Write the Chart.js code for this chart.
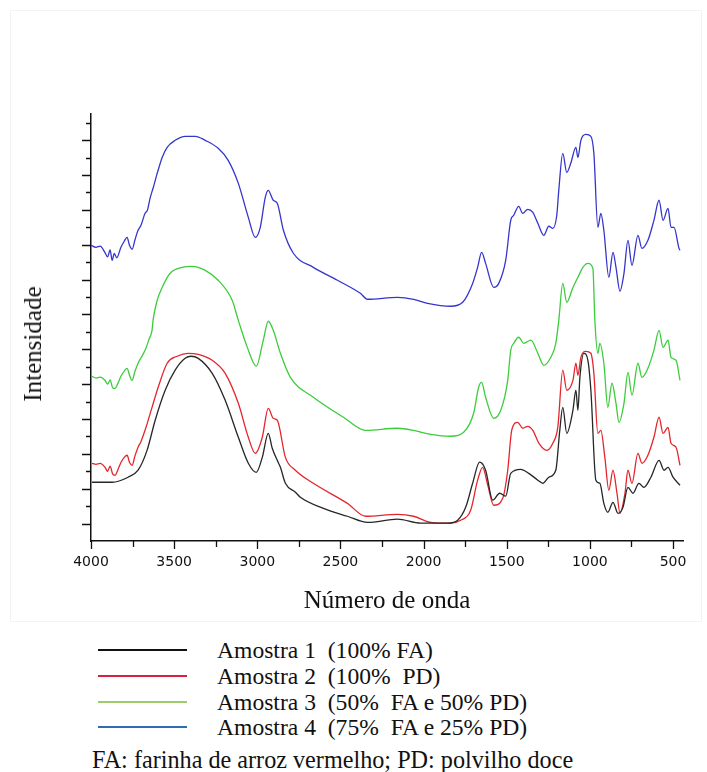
<!DOCTYPE html>
<html lang="pt">
<head>
<meta charset="utf-8">
<title>Espectros FTIR</title>
<script src="https://cdn.jsdelivr.net/npm/chart.js@4.4.1/dist/chart.umd.min.js"></script>
<style>
  body { margin: 0; background: #fff; }
  #wrap {
    position: relative; width: 707px; height: 772px; overflow: hidden;
    font-family: "Liberation Serif", "Times New Roman", serif; color: #111;
  }
  #frame {
    position: absolute; left: 10px; top: 10px; width: 690px; height: 610px;
    border: 1px solid #f3f3f3;
  }
  #spectra { position: absolute; left: 0; top: 0; }
  #ytitle {
    position: absolute; left: 33px; top: 344px; font-size: 25px; white-space: nowrap;
    transform: translate(-50%, -50%) rotate(-90deg);
  }
  .leg-line { position: absolute; left: 98px; width: 89px; height: 2px; }
  .leg-text {
    position: absolute; left: 217px; font-size: 23.6px; line-height: 26px;
    white-space: pre;
  }
  #note {
    position: absolute; left: 92px; top: 746px; font-size: 24.2px; line-height: 28px;
    white-space: pre;
  }
</style>
</head>
<body>
<div id="wrap">
  <div id="frame"></div>
  <canvas id="spectra" width="707" height="625"></canvas>
  <div id="ytitle">Intensidade</div>
  <div id="legend"></div>
  <div id="note">FA: farinha de arroz vermelho; PD: polvilho doce</div>
</div>

<script>
/* ---------- data ---------- */

const xTickLabels = [4000, 3500, 3000, 2500, 2000, 1500, 1000, 500];

const sampleNames = [
  'Amostra 1  (100% FA)',
  'Amostra 2  (100%  PD)',
  'Amostra 3  (50%  FA e 50% PD)',
  'Amostra 4  (75%  FA e 25% PD)'
];

// Amostra 1 (100% FA)
const amostra1Wn = [3994, 3873, 3777, 3717, 3663, 3614, 3554, 3494, 3434, 3398, 3355, 3271, 3193, 3114,
  3054, 3006, 2970, 2934, 2910, 2880, 2861, 2831, 2771, 2741, 2602, 2458, 2337, 2157, 2018, 1855, 1795,
  1747, 1705, 1663, 1627, 1584, 1542, 1506, 1476, 1416, 1367, 1313, 1283, 1247, 1205, 1181, 1163, 1139,
  1102, 1084, 1072, 1060, 1036, 1012, 994, 964, 940, 916, 892, 861, 831, 801, 771, 741, 705, 675, 633,
  584, 554, 530, 500, 458];
const amostra1Int = [3.37, 3.37, 3.66, 4.06, 5.20, 6.93, 8.65, 9.80, 10.48, 10.60, 10.48, 9.62, 8.07, 5.95,
  4.46, 3.94, 4.80, 6.18, 5.32, 4.63, 4.23, 3.31, 2.80, 2.51, 1.87, 1.42, 1.07, 1.25, 1.02, 1.02, 1.19,
  1.93, 3.31, 4.52, 4.06, 2.34, 2.74, 2.57, 3.88, 4.11, 3.88, 3.49, 3.31, 3.66, 4.06, 6.35, 7.67, 6.18,
  7.50, 8.65, 7.50, 9.39, 10.77, 10.37, 8.65, 3.49, 3.31, 2.16, 1.65, 2.22, 1.59, 1.93, 3.08, 2.74, 3.31,
  3.08, 3.66, 4.63, 4.06, 4.23, 3.66, 3.20];

// Amostra 2 (100% PD)
const amostra2Wn = [3994, 3970, 3945, 3916, 3900, 3885, 3870, 3855, 3840, 3820, 3800, 3783, 3768, 3753,
  3735, 3717, 3700, 3675, 3633, 3596, 3542, 3482, 3416, 3355, 3271, 3193, 3114, 3054, 3012, 2970, 2934,
  2904, 2880, 2831, 2771, 2663, 2458, 2349, 2157, 2060, 1958, 1837, 1777, 1717, 1675, 1645, 1614, 1578,
  1524, 1494, 1470, 1434, 1404, 1374, 1343, 1307, 1259, 1223, 1193, 1163, 1139, 1102, 1084, 1072, 1054,
  1024, 994, 976, 952, 934, 910, 886, 861, 837, 819, 789, 771, 747, 711, 687, 651, 615, 584, 560, 530,
  512, 482, 458];
const amostra2Int = [4.46, 4.40, 4.45, 4.23, 4.00, 4.30, 3.85, 3.77, 4.05, 4.50, 4.80, 4.92, 4.50, 4.34,
  4.90, 5.38, 5.70, 6.35, 7.67, 8.82, 10.20, 10.60, 10.77, 10.71, 10.37, 9.62, 7.90, 5.95, 5.03, 5.95, 7.61,
  7.04, 6.93, 4.80, 4.06, 3.31, 2.16, 1.42, 1.53, 1.42, 1.07, 1.02, 1.19, 1.76, 3.49, 4.23, 3.20, 2.05,
  2.45, 4.06, 6.35, 6.81, 6.47, 6.58, 6.35, 5.61, 5.20, 5.61, 6.52, 9.80, 8.65, 9.22, 10.20, 9.51, 10.54,
  10.88, 10.77, 9.62, 6.18, 6.35, 4.80, 2.91, 4.06, 2.74, 1.59, 2.74, 4.06, 3.31, 5.03, 4.46, 4.92, 5.95,
  7.10, 6.18, 6.52, 5.61, 5.38, 4.34];

// Amostra 3 (50% FA e 50% PD)
const amostra3Wn = [3994, 3970, 3945, 3916, 3900, 3885, 3870, 3855, 3840, 3820, 3800, 3783, 3768, 3753,
  3735, 3717, 3700, 3675, 3650, 3633, 3627, 3602, 3572, 3524, 3452, 3392, 3313, 3235, 3151, 3114, 3060,
  3006, 2964, 2934, 2904, 2861, 2801, 2663, 2482, 2349, 2157, 2060, 1958, 1837, 1759, 1699, 1669, 1651,
  1627, 1578, 1536, 1494, 1476, 1458, 1428, 1398, 1355, 1313, 1277, 1235, 1205, 1187, 1163, 1139, 1102,
  1072, 1042, 1012, 982, 970, 952, 940, 916, 892, 867, 843, 825, 795, 771, 747, 711, 687, 651, 615, 584,
  560, 530, 512, 482, 458];
const amostra3Int = [9.45, 9.35, 9.40, 9.22, 9.00, 9.25, 8.80, 8.76, 9.00, 9.45, 9.75, 9.91, 9.50, 9.22,
  9.75, 10.20, 10.50, 10.94, 11.60, 12.09, 12.66, 13.81, 14.55, 15.36, 15.70, 15.76, 15.53, 14.96, 13.81,
  12.66, 11.11, 10.03, 11.52, 12.61, 12.09, 10.77, 9.39, 8.25, 7.10, 6.35, 6.47, 6.35, 6.12, 6.01, 6.24,
  7.33, 8.82, 9.10, 8.25, 7.04, 7.50, 9.22, 10.94, 11.34, 11.69, 11.34, 11.52, 10.77, 10.08, 10.54, 11.34,
  12.66, 14.78, 13.70, 14.55, 15.13, 15.70, 15.93, 15.65, 12.66, 10.77, 11.34, 10.20, 7.67, 9.05, 7.90,
  6.81, 7.90, 9.68, 8.36, 10.20, 9.39, 9.91, 10.94, 12.09, 11.11, 11.52, 10.54, 10.37, 9.22];

// Amostra 4 (75% FA e 25% PD)
const amostra4Wn = [4000, 3970, 3945, 3916, 3900, 3885, 3873, 3860, 3845, 3820, 3800, 3783, 3768, 3753,
  3735, 3717, 3700, 3675, 3660, 3645, 3625, 3602, 3572, 3542, 3494, 3434, 3373, 3313, 3235, 3175, 3114,
  3054, 3012, 2982, 2952, 2934, 2904, 2880, 2843, 2783, 2663, 2518, 2380, 2337, 2157, 2060, 1976, 1837,
  1765, 1705, 1675, 1651, 1627, 1578, 1548, 1506, 1476, 1458, 1428, 1404, 1374, 1343, 1313, 1277, 1247,
  1223, 1199, 1187, 1163, 1139, 1115, 1084, 1072, 1054, 1024, 994, 976, 952, 934, 916, 886, 861, 843,
  819, 795, 771, 747, 711, 687, 651, 615, 584, 560, 530, 512, 494, 464, 458];
const amostra4Int = [16.97, 16.85, 16.92, 16.55, 16.30, 16.70, 16.10, 16.50, 16.25, 16.85, 17.20, 17.42,
  16.95, 16.74, 17.30, 17.83, 18.10, 18.80, 19.00, 19.66, 20.30, 21.09, 22.01, 22.59, 22.99, 23.22, 23.22,
  22.99, 22.53, 21.84, 20.52, 18.57, 17.42, 18.00, 19.72, 20.12, 19.55, 19.38, 17.83, 16.51, 15.70, 14.96,
  14.21, 13.87, 13.98, 13.87, 13.64, 13.47, 13.70, 14.78, 15.70, 16.56, 15.93, 14.55, 14.78, 16.11, 18.40,
  18.69, 19.20, 18.80, 19.03, 18.86, 18.23, 17.54, 18.06, 17.94, 18.69, 20.12, 22.24, 21.15, 21.67, 22.59,
  22.01, 22.99, 23.33, 23.22, 22.24, 18.00, 18.80, 17.83, 15.13, 16.56, 15.70, 14.33, 15.36, 17.25, 15.82,
  17.54, 16.79, 17.25, 18.40, 19.55, 18.40, 19.08, 18.00, 18.00, 16.79, 16.68];

/* ---------- styles ---------- */

const lineColors = ['#262626', '#e4262c', '#3ccc3c', '#3535cc'];
const legendColors = ['#111111', '#d81f3f', '#9dcc6c', '#2f6db3'];

/* ---------- chart ---------- */

function toPoints(wn, vals) {
  return wn.map((w, i) => ({ x: w, y: vals[i] }));
}

// short/long tick marks on both axes (Chart.js has no minor ticks)
const axisTicks = {
  id: 'axisTicks',
  afterDraw(chart) {
    const { ctx, chartArea, scales } = chart;
    ctx.save();
    ctx.strokeStyle = '#111';
    ctx.lineWidth = 1.3;
    ctx.beginPath();
    for (let v = 1; v <= 24; v++) {
      const y = Math.round(scales.y.getPixelForValue(v)) + 0.5;
      const len = v % 2 ? 9 : 5;
      ctx.moveTo(chartArea.left - len, y);
      ctx.lineTo(chartArea.left, y);
    }
    for (let w = 4000; w >= 500; w -= 250) {
      const x = Math.round(scales.x.getPixelForValue(w)) + 0.5;
      const len = w % 500 === 0 ? 8 : 6;
      ctx.moveTo(x, chartArea.bottom);
      ctx.lineTo(x, chartArea.bottom + len);
    }
    ctx.stroke();
    ctx.restore();
  }
};

const series = [
  toPoints(amostra1Wn, amostra1Int),
  toPoints(amostra2Wn, amostra2Int),
  toPoints(amostra3Wn, amostra3Int),
  toPoints(amostra4Wn, amostra4Int)
];

new Chart(document.getElementById('spectra'), {
  type: 'line',
  data: {
    datasets: series.map((pts, i) => ({
      label: sampleNames[i],
      data: pts,
      borderColor: lineColors[i],
      borderWidth: 1.3,
      pointRadius: 0,
      cubicInterpolationMode: 'monotone',
      fill: false
    }))
  },
  options: {
    responsive: false,
    animation: false,
    layout: { padding: { left: 0, top: 114, right: 24, bottom: 0 } },
    plugins: { legend: { display: false }, tooltip: { enabled: false } },
    scales: {
      x: {
        type: 'linear',
        reverse: true,
        min: 440,
        max: 4000,
        afterFit: s => { s.height = 84; },
        afterBuildTicks: s => { s.ticks = xTickLabels.map(v => ({ value: v })); },
        grid: { display: false, drawTicks: false },
        border: { display: true, color: '#111', width: 1.5 },
        ticks: {
          color: '#111',
          font: { family: 'DejaVu Sans', size: 14 },
          padding: 13,
          maxRotation: 0,
          autoSkip: false,
          callback: v => String(v)
        },
        title: {
          display: true,
          text: 'Número de onda',
          color: '#111',
          font: { family: 'Liberation Serif', size: 25 },
          padding: { top: 0, bottom: 9 }
        }
      },
      y: {
        min: 0,
        max: 24.5,
        afterFit: s => { s.width = 91; },
        grid: { display: false, drawTicks: false },
        border: { display: true, color: '#111', width: 1.5 },
        ticks: { display: false }
      }
    }
  },
  plugins: [axisTicks]
});

/* ---------- legend ---------- */

const legendRowY = [650, 676, 702, 727];
const legendEl = document.getElementById('legend');
legendEl.innerHTML = sampleNames.map((name, i) => `
  <div class="leg-line" style="top:${legendRowY[i] - 1}px;background:${legendColors[i]}"></div>
  <div class="leg-text" style="top:${legendRowY[i] - 13}px">${name}</div>
`).join('');
</script>
</body>
</html>
